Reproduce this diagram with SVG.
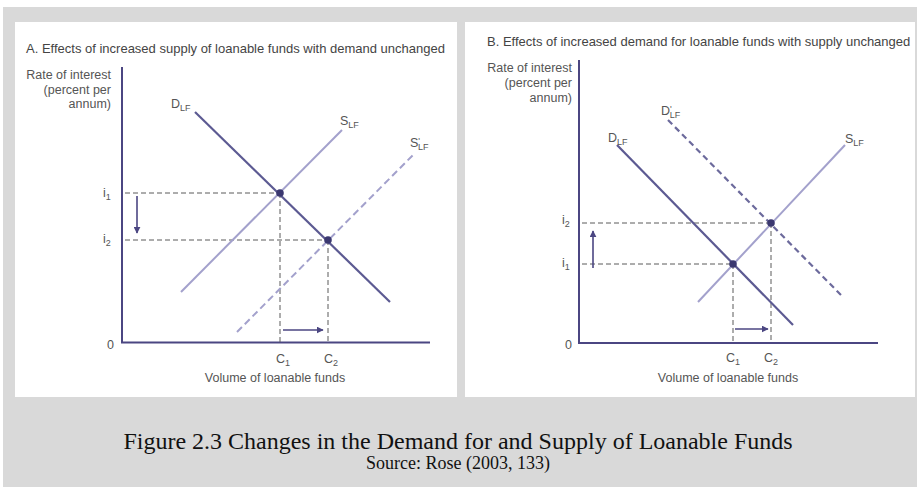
<svg xmlns="http://www.w3.org/2000/svg" width="917" height="487" viewBox="0 0 917 487">
<defs>
<style>
.lbl{font-family:"Liberation Sans",Arial,sans-serif;font-size:12.5px;fill:#555;}
.ttl{font-family:"Liberation Sans",Arial,sans-serif;font-size:13px;fill:#444;}
.sub{font-size:9px;}
.axis{stroke:#4b4682;stroke-width:2;fill:none;}
.dem{stroke:#5c5a92;stroke-width:2.2;fill:none;}
.sup{stroke:#a3a1cc;stroke-width:2;fill:none;}
.supd{stroke:#a3a1cc;stroke-width:2;fill:none;stroke-dasharray:7 4;}
.demd{stroke:#6c6a9c;stroke-width:2.2;fill:none;stroke-dasharray:6 4;}
.guide{stroke:#5a5a5a;stroke-width:1;fill:none;stroke-dasharray:5 3;}
.arr{stroke:#4b4682;stroke-width:1.6;fill:none;}
.dot{fill:#3b3870;}
.cap{font-family:"Liberation Serif","Times New Roman",serif;fill:#111;text-anchor:middle;}
</style>
<marker id="ah" viewBox="0 0 10 10" refX="9" refY="5" markerWidth="7" markerHeight="7" orient="auto" markerUnits="userSpaceOnUse">
<path d="M0,0 L10,5 L0,10 z" fill="#4b4682"/>
</marker>
</defs>
<rect x="0" y="0" width="917" height="487" fill="#ffffff"/>
<rect x="3" y="7" width="914" height="480" fill="#d9d9d9"/>
<rect x="15" y="22" width="442" height="375" fill="#ffffff"/>
<rect x="465" y="22" width="450" height="375" fill="#ffffff"/>

<g id="panelA">
<text class="ttl" x="26" y="52.5">A. Effects of increased supply of loanable funds with demand unchanged</text>
<g id="A-yaxis-label" class="lbl" text-anchor="end">
<text x="111" y="79">Rate of interest</text>
<text x="111" y="94">(percent per</text>
<text x="111" y="108">annum)</text>
</g>
<g id="A-axes"><path class="axis" d="M122,67 V342.5 H430"/></g>
<g id="A-guides">
<path class="guide" d="M125,193 H280 M125,240 H328 M280,193 V342 M328,240 V342"/>
</g>
<g id="A-curves">
<path id="A-SLF2" class="supd" d="M237,332 L413,155"/>
<path id="A-SLF" class="sup" d="M181,292 L342,130"/>
<path id="A-DLF" class="dem" d="M195,112 L390,302"/>
</g>
<g id="A-points">
<circle class="dot" cx="280" cy="193" r="3.8"/>
<circle class="dot" cx="328" cy="240" r="3.8"/>
</g>
<g id="A-arrows">
<path class="arr" d="M137,196 V233" marker-end="url(#ah)"/>
<path class="arr" d="M283,330 H323" marker-end="url(#ah)"/>
</g>
<g id="A-labels" class="lbl">
<text x="171" y="108">D<tspan class="sub" dy="3">LF</tspan></text>
<text x="340" y="125">S<tspan class="sub" dy="3">LF</tspan></text>
<text x="410" y="147">S<tspan class="sub" dy="-3">'</tspan><tspan class="sub" dx="-2" dy="6">LF</tspan></text>
<text x="103" y="197">i<tspan class="sub" dy="3">1</tspan></text>
<text x="103" y="243">i<tspan class="sub" dy="3">2</tspan></text>
<text x="107" y="349">0</text>
<text x="276" y="363">C<tspan class="sub" dy="3">1</tspan></text>
<text x="324" y="363">C<tspan class="sub" dy="3">2</tspan></text>
<text x="275" y="382" text-anchor="middle">Volume of loanable funds</text>
</g>
</g>

<g id="panelB">
<text class="ttl" x="487" y="45.5">B. Effects of increased demand for loanable funds with supply unchanged</text>
<g id="B-yaxis-label" class="lbl" text-anchor="end">
<text x="572" y="72">Rate of interest</text>
<text x="572" y="87">(percent per</text>
<text x="572" y="102">annum)</text>
</g>
<g id="B-axes"><path class="axis" d="M579,60 V343 H878"/></g>
<g id="B-guides">
<path class="guide" d="M582,223 H771 M582,264 H733 M733,264 V342 M771,223 V342"/>
</g>
<g id="B-curves">
<path id="B-DLF2" class="demd" d="M668,120 L843,297"/>
<path id="B-SLF" class="sup" d="M698,302 L845,145"/>
<path id="B-DLF" class="dem" d="M617,145 L793,325"/>
</g>
<g id="B-points">
<circle class="dot" cx="733" cy="264" r="3.8"/>
<circle class="dot" cx="771" cy="223" r="3.8"/>
</g>
<g id="B-arrows">
<path class="arr" d="M593,268 V231" marker-end="url(#ah)"/>
<path class="arr" d="M735,329 H768" marker-end="url(#ah)"/>
</g>
<g id="B-labels" class="lbl">
<text x="608" y="142">D<tspan class="sub" dy="3">LF</tspan></text>
<text x="661" y="115">D<tspan class="sub" dy="-3">'</tspan><tspan class="sub" dx="-2" dy="6">LF</tspan></text>
<text x="845" y="143">S<tspan class="sub" dy="3">LF</tspan></text>
<text x="562" y="224">i<tspan class="sub" dy="3">2</tspan></text>
<text x="562" y="267">i<tspan class="sub" dy="3">1</tspan></text>
<text x="565" y="349">0</text>
<text x="726" y="362">C<tspan class="sub" dy="3">1</tspan></text>
<text x="764" y="362">C<tspan class="sub" dy="3">2</tspan></text>
<text x="728" y="382" text-anchor="middle">Volume of loanable funds</text>
</g>
</g>

<g id="caption">
<text class="cap" x="458" y="449" font-size="24">Figure 2.3 Changes in the Demand for and Supply of Loanable Funds</text>
<text class="cap" x="458" y="469" font-size="18">Source: Rose (2003, 133)</text>
</g>
</svg>
